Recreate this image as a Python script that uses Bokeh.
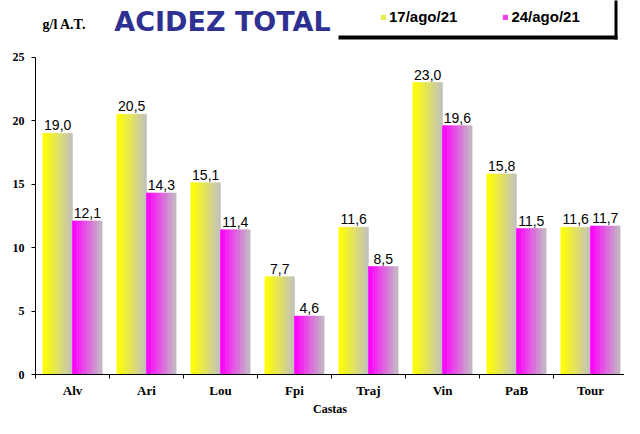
from bokeh.plotting import figure
from bokeh.models import (ColumnDataSource, Range1d, FixedTicker, Label, Legend,
                          LegendItem, BoxAnnotation)
from bokeh.embed import file_html
from bokeh.resources import INLINE
from bokeh.core.properties import value

# ---- data ----
categories = ["Alv", "Ari", "Lou", "Fpi", "Traj", "Vin", "PaB", "Tour"]
series_names = ["17/ago/21", "24/ago/21"]
values_17ago = [19.0, 20.5, 15.1, 7.7, 11.6, 23.0, 15.8, 11.6]
values_24ago = [12.1, 14.3, 11.4, 4.6, 8.5, 19.6, 11.5, 11.7]
y_ticks = [0, 5, 10, 15, 20, 25]
y_max = 25

# ---- layout / style ----
W, H = 624, 418
FRAME_LEFT, FRAME_BOTTOM = 35, 42
FRAME_W = W - FRAME_LEFT
FRAME_H = H - FRAME_BOTTOM
CAT_PX = 74.0
TOP_OF_25 = 57
PX_PER_UNIT = (FRAME_H - TOP_OF_25) / y_max
BAR_W = 0.4
N_STRIPS = 12
grad_yellow = ((255, 255, 0), (196, 196, 184))
grad_magenta = ((255, 0, 255), (196, 180, 196))


def hexcol(c):
    return "#%02x%02x%02x" % tuple(int(round(v)) for v in c)


def strip_source(vals, offset, grad):
    xs, tops, cols = [], [], []
    sw = BAR_W / N_STRIPS
    for i, v in enumerate(vals):
        left = i + 0.5 + offset
        for k in range(N_STRIPS):
            t = k / (N_STRIPS - 1)
            c = [grad[0][j] + (grad[1][j] - grad[0][j]) * t for j in range(3)]
            xs.append(left + (k + 0.5) * sw)
            tops.append(v)
            cols.append(hexcol(c))
    return ColumnDataSource(dict(x=xs, top=tops, color=cols)), sw


def fy(y_from_top):
    """canvas y (from top) -> frame-relative screen y (from bottom)"""
    return FRAME_H - y_from_top


p = figure(width=W, height=H, output_backend="svg", toolbar_location=None,
           x_range=Range1d(0, FRAME_W / CAT_PX), y_range=Range1d(0, FRAME_H / PX_PER_UNIT),
           min_border_left=FRAME_LEFT, min_border_right=0,
           min_border_top=0, min_border_bottom=FRAME_BOTTOM)
p.outline_line_color = None
p.xgrid.visible = False
p.ygrid.visible = False
p.background_fill_color = "white"

renderers = []
for vals, off, grad in ((values_17ago, -BAR_W, grad_yellow),
                        (values_24ago, 0.0, grad_magenta)):
    src, sw = strip_source(vals, off, grad)
    r = p.vbar(x="x", top="top", bottom=0, width=sw * 1.02, source=src,
               fill_color="color", line_color="color", line_width=0.6)
    renderers.append(r)

# value labels
lab_x, lab_y, lab_t = [], [], []
for vals, off in ((values_17ago, -BAR_W / 2), (values_24ago, BAR_W / 2)):
    for i, v in enumerate(vals):
        lab_x.append(i + 0.5 + off)
        lab_y.append(v)
        lab_t.append(f"{v:.1f}".replace(".", ","))
p.text(x="x", y="y", text="t", source=ColumnDataSource(dict(x=lab_x, y=lab_y, t=lab_t)),
       text_align="center", text_baseline="alphabetic", y_offset=-8,
       text_font=value("Liberation Sans"), text_font_size="14px", text_color="black")

# x axis
centers = [i + 0.5 for i in range(len(categories))]
bounds = [float(i) for i in range(len(categories) + 1)]
xa = p.xaxis[0]
xa.ticker = FixedTicker(ticks=centers, minor_ticks=bounds)
xa.major_label_overrides = {c: n for c, n in zip(centers, categories)}
xa.major_tick_out = 0
xa.major_tick_in = 0
xa.minor_tick_out = 4
xa.minor_tick_in = 0
xa.minor_tick_line_color = "black"
xa.axis_line_color = "black"
xa.major_label_standoff = 4
xa.major_label_text_font = "Liberation Serif"
xa.major_label_text_font_style = "bold"
xa.major_label_text_font_size = "13px"
xa.major_label_text_color = "black"
xa.axis_label = "Castas"
xa.axis_label_standoff = 1
xa.axis_label_text_font = "Liberation Serif"
xa.axis_label_text_font_style = "bold"
xa.axis_label_text_font_size = "12px"
xa.axis_label_text_color = "black"

# y axis (line only up to 25)
ya = p.yaxis[0]
ya.ticker = FixedTicker(ticks=y_ticks)
ya.bounds = (0, y_max)
ya.major_tick_out = 4
ya.major_tick_in = 0
ya.minor_tick_out = 0
ya.minor_tick_in = 0
ya.axis_line_color = "black"
ya.major_tick_line_color = "black"
ya.major_label_standoff = 7
ya.major_label_text_font = "Liberation Serif"
ya.major_label_text_font_style = "bold"
ya.major_label_text_font_size = "12px"
ya.major_label_text_color = "black"

# texts above the value area (frame-relative screen units, origin bottom-left)
p.add_layout(Label(x=187, y=fy(23), x_units="screen", y_units="screen",
                   text="ACIDEZ TOTAL", text_font="DejaVu Sans", text_font_style="bold",
                   text_font_size="27px", text_color="#2E3192", text_align="center",
                   text_baseline="alphabetic"))
p.add_layout(Label(x=7, y=fy(26), x_units="screen", y_units="screen",
                   text="g/l A.T.", text_font="Liberation Serif", text_font_style="bold",
                   text_font_size="14px", text_color="black", text_baseline="alphabetic"))

# legend box borders (bottom and right, thick)
for l, r_, b, t in ((303, 582, fy(41), fy(37)),
                    (579, 582, fy(41), fy(-5))):
    p.add_layout(BoxAnnotation(left=l, right=r_, bottom=b, top=t,
                               left_units="screen", right_units="screen",
                               bottom_units="screen", top_units="screen",
                               fill_color="black", fill_alpha=1.0, line_alpha=0))

legend = Legend(items=[LegendItem(label=series_names[0], renderers=[renderers[0]], index=N_STRIPS // 3),
                       LegendItem(label=series_names[1], renderers=[renderers[1]], index=N_STRIPS // 3)],
                orientation="horizontal", location=(335, fy(37)),
                padding=10, spacing=45, glyph_width=6, glyph_height=6, label_standoff=3,
                label_height=16, margin=0,
                label_text_font="Liberation Sans", label_text_font_style="bold",
                label_text_font_size="15px", label_text_color="black",
                border_line_alpha=0, background_fill_alpha=0)
p.add_layout(legend, "center")

open("out.html", "w").write(file_html(p, INLINE))
